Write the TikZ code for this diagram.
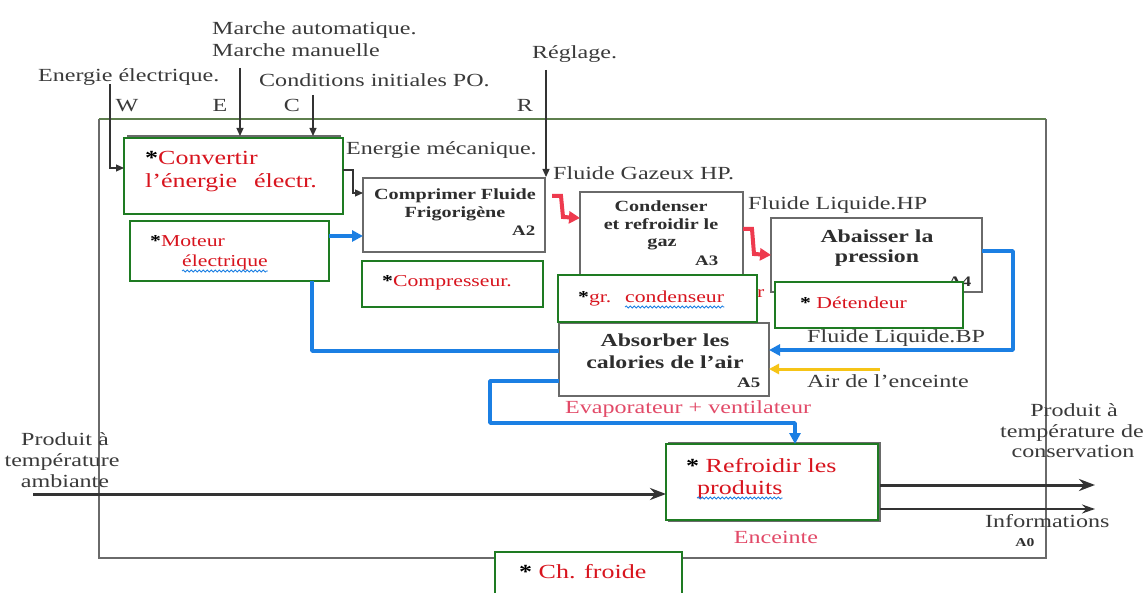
\documentclass[tikz,border=0pt]{standalone}
\usepackage{fontspec}
\setmainfont{Liberation Serif}[FakeStretch=1.3]
\usetikzlibrary{arrows.meta,calc,decorations.pathmorphing}

\definecolor{labelgrey}{HTML}{3A3A3A}
\definecolor{taskgrey}{HTML}{2E2E2E}
\definecolor{boxgrey}{HTML}{6A6A6A}
\definecolor{boxgreen}{HTML}{1E7B22}
\definecolor{txtred}{HTML}{D8141E}
\definecolor{txtpink}{HTML}{E24A68}
\definecolor{flowblue}{HTML}{1B7FE3}
\definecolor{flowred}{HTML}{EE3A4E}
\definecolor{airyellow}{HTML}{F6C416}
\definecolor{frametop}{HTML}{5E7F4E}
\definecolor{darkline}{HTML}{333333}

\tikzset{
  greybox/.style={draw=boxgrey, line width=1.3pt, fill=white, inner sep=0pt, outer sep=0pt},
  greenbox/.style={draw=boxgreen, line width=2.6pt, fill=white, inner sep=0pt, outer sep=0pt},
  lbl/.style={anchor=base west, inner sep=0pt, text=labelgrey, font=\fontsize{18.5}{20}\selectfont},
  lblc/.style={lbl, anchor=base},
  redbig/.style={anchor=base west, inner sep=0pt, text=txtred, font=\fontsize{20}{22}\selectfont},
  redsmall/.style={anchor=base west, inner sep=0pt, text=txtred, font=\fontsize{16.7}{18}\selectfont},
  taskbig/.style={anchor=base, inner sep=0pt, text=taskgrey, font=\bfseries\fontsize{18.3}{20}\selectfont},
  tasksmall/.style={anchor=base, inner sep=0pt, text=taskgrey, font=\bfseries\fontsize{15.5}{17}\selectfont},
  tag/.style={anchor=base west, inner sep=0pt, text=taskgrey, font=\bfseries\fontsize{14.5}{16}\selectfont},
  thinarrow/.style={draw=darkline, line width=1.2pt, -{Triangle[length=8pt,width=7pt]}},
  redflow/.style={draw=flowred, line width=4pt, line join=miter, -{Triangle[length=11pt,width=12pt]}},
  blueflow/.style={draw=flowblue, line width=3.5pt, line join=round},
  bluearrow/.style={blueflow, -{Triangle[length=11pt,width=11pt]}},
  yellowflow/.style={draw=airyellow, line width=3pt, -{Triangle[length=10pt,width=10pt]}},
  heavy/.style={draw=darkline, line width=3pt, -{Stealth[length=16pt,width=12pt]}},
  infoarrow/.style={draw=darkline, line width=1.6pt, -{Stealth[length=13pt,width=9pt]}},
  wavy/.style={draw=flowblue, line width=0.8pt, decorate, decoration={snake, amplitude=1pt, segment length=4pt}},
}
\newcommand{\bstar}{\textcolor{black}{\bfseries *}}

\begin{document}
\begin{tikzpicture}[x=1pt,y=-1pt]
\useasboundingbox (0,0) rectangle (1148,593);
\fill[white] (0,0) rectangle (1148,593);

% outer frame of the A0 diagram
\draw[boxgrey, line width=1.2pt] (99,119) -- (99,558) -- (1046,558) -- (1046,119);
\draw[frametop, line width=1.2pt] (99,119) -- (1046,119);

% external labels
\node[lbl] (marche1) at (212,35) {Marche automatique.};
\node[lbl] (marche2) at (212,57) {Marche manuelle};
\node[lbl] (enelec) at (38,82) {Energie électrique.};
\node[lbl] (condi) at (259,87) {Conditions initiales PO.};
\node[lbl] (regl) at (532,59) {Réglage.};
\node[lblc] (lw) at (127,112) {W};
\node[lblc] (le) at (220,112) {E};
\node[lblc] (lc) at (292,112) {C};
\node[lblc] (lr) at (525,112) {R};
\node[lbl] (enmec) at (346,155) {Energie mécanique.};
\node[lbl] (fgaz) at (553,180) {Fluide Gazeux HP.};
\node[lbl] (fliqhp) at (748,210) {Fluide Liquide.HP};
\node[lbl] (fliqbp) at (807,342) {Fluide Liquide.BP};
\node[lbl] (airtxt) at (807,387) {Air de l’enceinte};
\node[lbl, text=txtpink] (evap) at (565,413) {Evaporateur + ventilateur};
\node[lblc, text=txtpink] (enc) at (776,543) {Enceinte};
\node[lbl] (info) at (985,527) {Informations};
\node[tag, anchor=base, font=\bfseries\fontsize{12}{14}\selectfont] (a0) at (1025,546) {A0};
\node[lblc] (pin1) at (65,445) {Produit à};
\node[lblc] (pin2) at (62,466) {température};
\node[lblc] (pin3) at (65,487) {ambiante};
\node[lblc] (pout1) at (1074,416) {Produit à};
\node[lblc] (pout2) at (1072,437) {température de};
\node[lblc] (pout3) at (1073,457) {conservation};

% activity boxes
\node[greybox, minimum width=182pt, minimum height=74pt] (a2) at (454,215) {};
\node[tasksmall] at (455,200) {Comprimer Fluide};
\node[tasksmall] at (455,218) {Frigorigène};
\node[tag] at (512,236) {A2};

\node[greybox, minimum width=163pt, minimum height=88pt] (a3) at (661.5,236) {};
\node[tasksmall] at (661,212) {Condenser};
\node[tasksmall] at (661,230) {et refroidir le};
\node[tasksmall] at (662,247) {gaz};
\node[tag] at (695,266) {A3};

\node[greybox, minimum width=211pt, minimum height=74pt] (a4) at (876.5,255) {};
\node[taskbig] at (877,243) {Abaisser la};
\node[taskbig] at (877,263) {pression};
\node[tag] at (948,287) {A4};

\node[greybox, minimum width=210pt, minimum height=73pt] (a5) at (664,359.5) {};
\node[taskbig] at (665,347) {Absorber les};
\node[taskbig] at (665,368) {calories de l’air};
\node[tag] at (737,387) {A5};

\node[redsmall] at (757,298) {r};

% means (green boxes)
\node[greybox, minimum width=212pt, minimum height=78pt] (a1back) at (234,175) {};
\node[greenbox, minimum width=219pt, minimum height=76pt] (a1) at (233.5,176) {};
\node[redbig] at (145,165) {\bstar Convertir};
\node[redbig] at (145,188) {l’énergie\hspace{17pt}électr.};

\node[greenbox, minimum width=199pt, minimum height=60pt] (moteur) at (229.5,251) {};
\node[redsmall] at (150,247) {\bstar Moteur};
\node[redsmall] (motw2) at (182,267) {électrique};
\draw[wavy] ($(motw2.base west)+(0,4)$) -- ($(motw2.base east)+(0,4)$);

\node[greenbox, minimum width=181pt, minimum height=46pt] (compr) at (452.5,284) {};
\node[redsmall] at (382,287) {\bstar Compresseur.};

\node[greenbox, minimum width=199pt, minimum height=47pt] (cond) at (657.5,298.5) {};
\node[redsmall] at (578,303) {\bstar gr.};
\node[redsmall] (condw) at (625,303) {condenseur};
\draw[wavy] ($(condw.base west)+(0,4)$) -- ($(condw.base east)+(0,4)$);

\node[greenbox, minimum width=188pt, minimum height=46pt] (deten) at (869,305) {};
\node[redsmall] at (800,309) {\bstar\ Détendeur};

\node[greybox, minimum width=211pt, minimum height=78pt] (refrback) at (774.5,482) {};
\node[greenbox, minimum width=212pt, minimum height=76pt] (refr) at (772,482) {};
\node[redbig] at (686,472) {\bstar\ Refroidir les};
\node[redbig] (refw) at (697,494) {produits};
\draw[wavy] ($(refw.base west)+(0,4)$) -- ($(refw.base east)+(0,4)$);

\node[greenbox, minimum width=187pt, minimum height=58pt] (chf) at (588.5,581) {};
\node[redbig] at (519,578) {\bstar\ Ch. froide};

% controls and inputs from above
\coordinate (wtop) at (110,84);
\coordinate (etop) at (240,68);
\coordinate (ctop) at (313,95);
\coordinate (rtop) at (546,70);
\draw[thinarrow] (wtop) |- (a1.west |- 0,168);
\draw[thinarrow] (etop) -- (etop |- a1back.north);
\draw[thinarrow] (ctop) -- (ctop |- a1back.north);
\draw[thinarrow, shorten >=1pt] (rtop) -- (rtop |- a2.north);
\draw[thinarrow] (a1.east |- 0,170) -| (353,182) |- (a2.west |- 0,193);

% refrigerant flow
\draw[redflow] ($(a2.east)+(7,-19)$) -- ++(9,0) -- ++(2,21) -- (a3.west |- 0,218);
\draw[redflow] (a3.east |- 0,229) -- ++(9,0) -- ++(2,25) -- (a4.west |- 0,255);
\draw[bluearrow] (moteur.east |- 0,236) -- (a2.west |- 0,236);
\draw[blueflow] (moteur.south -| 312,0) |- (a5.west |- 0,351);
\draw[bluearrow] (a4.east |- 0,251) -| (1013,300) |- (a5.east |- 0,350);
\coordinate (evapcorner) at (795,423);
\draw[bluearrow] (a5.west |- 0,381) -- (490,381) -- (490,423) -- (evapcorner) -- (evapcorner |- refr.north);
\coordinate (airsrc) at (880,369);
\draw[yellowflow] (airsrc) -- (a5.east |- airsrc);

% product flow
\coordinate (prodin) at (33,494);
\coordinate (prodout) at (1095,485);
\coordinate (infout) at (1095,509);
\draw[heavy] (prodin) -- (refr.west |- prodin);
\draw[heavy] (refrback.east |- prodout) -- (prodout);
\draw[infoarrow] (refrback.east |- infout) -- (infout);
\end{tikzpicture}
\end{document}
